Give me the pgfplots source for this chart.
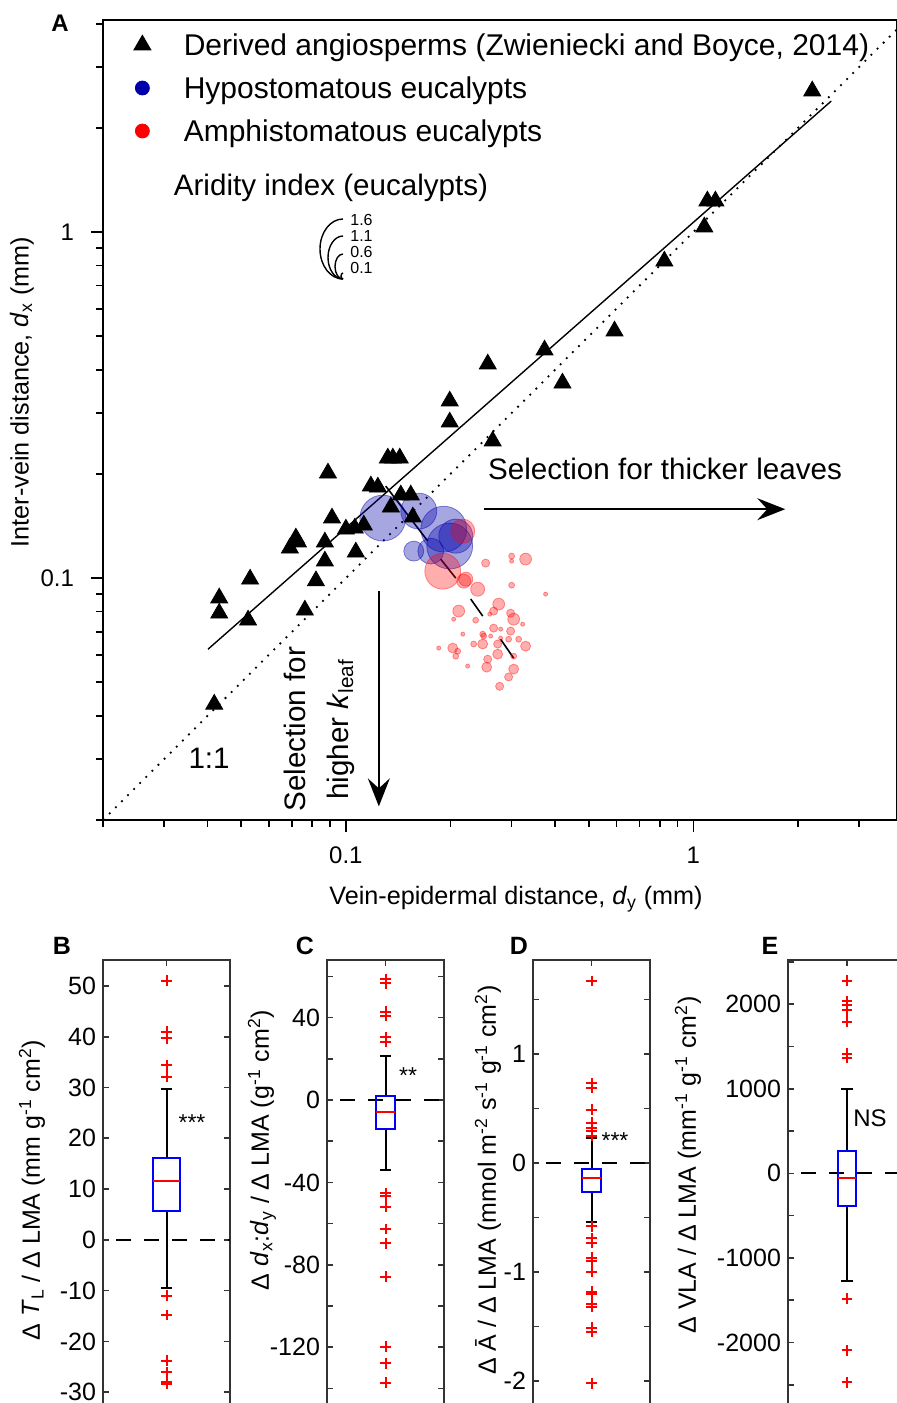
\documentclass[border=0pt]{standalone}
\usepackage{fontspec}
\setmainfont{Liberation Sans}
\usepackage{pgfplots}
\usepackage{pgfplotstable}
\pgfplotsset{compat=1.18}
\usepgfplotslibrary{statistics}
\usetikzlibrary{arrows.meta}

\definecolor{hypoc}{RGB}{0,0,170}
\definecolor{amphic}{RGB}{255,0,0}
\definecolor{frm}{gray}{0.2}
\newcommand{\fs}[1]{\fontsize{#1}{#1}\selectfont}

% derived angiosperms (dy, dx) in mm
\pgfplotstableread{
x y
2.198 2.556
1.097 1.229
1.157 1.229
1.075 1.034
0.825 0.824
0.593 0.5175
0.373 0.456
0.420 0.366
0.256 0.4154
0.199 0.3248
0.199 0.2824
0.2645 0.2489
0.1320 0.2222
0.1365 0.2222
0.1429 0.2222
0.0888 0.2011
0.1180 0.1845
0.1236 0.1832
0.1439 0.1738
0.1537 0.1738
0.1347 0.1604
0.1558 0.1501
0.0912 0.1491
0.1126 0.1423
0.1061 0.1394
0.1000 0.1385
0.0718 0.1305
0.0728 0.1271
0.0690 0.1221
0.0870 0.1271
0.1068 0.1189
0.0870 0.1120
0.0820 0.0982
0.0530 0.0993
0.0432 0.0876
0.0432 0.0792
0.0523 0.0756
0.0762 0.0808
0.0418 0.0432
}\tabangio

% hypostomatous eucalypts, ai = aridity index
\pgfplotstableread{
x y ai
0.1277 0.1491 1.24
0.1621 0.1562 0.97
0.1913 0.1385 1.24
0.1990 0.1238 1.24
0.2071 0.1322 0.92
0.1568 0.1197 0.54
0.1755 0.1197 0.70
}\tabhypo

% amphistomatous eucalypts
\pgfplotstableread{
x y ai
0.2170 0.1367 0.65
0.1900 0.1047 0.97
0.2213 0.0993 0.38
0.2184 0.0980 0.38
0.2394 0.0929 0.38
0.2525 0.1105 0.22
0.2999 0.1158 0.16
0.2999 0.1120 0.11
0.3290 0.1135 0.32
0.2999 0.0954 0.16
0.3756 0.0899 0.11
0.2753 0.0841 0.32
0.2979 0.0792 0.22
0.2662 0.0803 0.22
0.2112 0.0803 0.32
0.2043 0.0761 0.11
0.2363 0.0756 0.16
0.3040 0.0761 0.32
0.3226 0.0736 0.11
0.2662 0.0717 0.22
0.2492 0.0680 0.16
0.2979 0.0703 0.22
0.2788 0.0712 0.11
0.3142 0.0666 0.16
0.2476 0.0645 0.27
0.2734 0.0645 0.22
0.2940 0.0666 0.16
0.3290 0.0636 0.27
0.2332 0.0645 0.16
0.2170 0.0689 0.11
0.2030 0.0628 0.27
0.2098 0.0615 0.16
0.1850 0.0628 0.11
0.2071 0.0595 0.16
0.2734 0.0603 0.27
0.2559 0.0583 0.22
0.3040 0.0595 0.16
0.2542 0.0553 0.27
0.3040 0.0546 0.27
0.2241 0.0557 0.11
0.2940 0.0518 0.22
0.2770 0.0487 0.22
0.2788 0.0671 0.11
0.2610 0.0680 0.11
0.2476 0.0689 0.16
0.2594 0.0787 0.11
}\tabamphi

\pgfplotsset{
  sized/.style={
    visualization depends on={\thisrow{ai} \as \aival},
    scatter/@pre marker code/.append style={/tikz/mark size=\aival*9.25pt}},
  boxpanel/.style={anchor=south west, scale only axis, height=225pt,
    xmin=0.5, xmax=1.5, xtick={1}, xticklabels={},
    tick align=inside, xtick pos=both, ytick pos=both,
    major tick length=3pt, minor tick length=3pt,
    axis line style={line width=0.8pt, frm},
    tick style={line width=0.8pt, frm},
    tick label style={font=\fs{12.5}},
    /pgf/number format/assume math mode=true,
    /pgf/number format/1000 sep={}},
  zeroline/.style={forget plot, black, line width=1pt,
    dash pattern=on 7.5pt off 6.5pt, dash phase=7.5pt},
  mybox/.style={color=red, line width=1pt, mark=+, mark size=2.7pt,
    mark options={draw=red, line width=1pt, solid},
    boxplot/draw direction=y,
    boxplot/every box/.style={draw=blue, line width=1pt},
    boxplot/every median/.style={draw=red, line width=1pt},
    boxplot/every whisker/.style={draw=black, line width=1pt}},
}

\begin{document}
\begin{tikzpicture}
\path[use as bounding box] (0,0) rectangle (448.5pt,-701.5pt);

% ---------------- panel A ----------------
\begin{axis}[at={(51.5pt,-410pt)}, anchor=south west, scale only axis,
  width=397pt, height=400pt,
  xmode=log, ymode=log, xmin=0.02, xmax=3.855, ymin=0.02, ymax=4.1,
  xtick={0.1,1}, xticklabels={0.1,1}, ytick={0.1,1}, yticklabels={0.1,1},
  minor xtick={0.02,0.03,0.04,0.05,0.06,0.07,0.08,0.09,0.2,0.3,0.4,0.5,0.6,0.7,0.8,0.9,2,3},
  minor ytick={0.02,0.03,0.04,0.05,0.06,0.07,0.08,0.09,0.2,0.3,0.4,0.5,0.6,0.7,0.8,0.9,2,3,4},
  tick pos=left, tick align=outside,
  major tick length=6pt, minor tick length=3.3pt,
  axis line style={line width=0.8pt},
  tick style={line width=0.8pt, black},
  tick label style={font=\fs{12}},
  yticklabel style={xshift=-5pt},
  xticklabel style={yshift=-4pt},
  /pgf/number format/assume math mode=true,
  legend style={at={(axis description cs:0,1)}, anchor=north west,
    xshift=9.5pt, yshift=-5.85pt, draw=none, fill=none,
    inner sep=0pt, outer sep=0pt, row sep=8.2pt, column sep=10.5pt,
    font=\fs{15}, nodes={inner sep=0pt, text height=12pt, text depth=1.3pt}},
  legend cell align=left,
  legend image code/.code={\path (0pt,0pt) (20pt,0pt);
    \path[draw=none, #1] plot coordinates {(10pt,0pt)};},
]
\addlegendimage{mark=triangle*, mark size=4.9pt, black}
\addlegendentry{Derived angiosperms (Zwieniecki and Boyce, 2014)}
\addlegendimage{mark=*, mark size=3.5pt, hypoc}
\addlegendentry{Hypostomatous eucalypts}
\addlegendimage{mark=*, mark size=3.5pt, amphic}
\addlegendentry{Amphistomatous eucalypts}

\addplot[forget plot, scatter, only marks, mark=*,
  scatter/use mapped color={draw=hypoc, fill=hypoc, draw opacity=0.45, fill opacity=0.35},
  sized] table[x=x, y=y] {\tabhypo};
\addplot[forget plot, scatter, only marks, mark=*,
  scatter/use mapped color={draw=amphic, fill=amphic, draw opacity=0.4, fill opacity=0.32},
  sized] table[x=x, y=y] {\tabamphi};

% 1:1 line and fitted line
\addplot[forget plot, black, line width=0.9pt, dash pattern=on 0.9pt off 3.4pt]
  coordinates {(0.02,0.02) (4.1,4.1)};
\addplot[forget plot, black, line width=0.7pt]
  coordinates {(0.0401,0.0623) (2.493,2.391)};
% within-group slopes
\addplot[forget plot, black, line width=0.8pt] coordinates {(0.1302,0.1845) (0.1720,0.1280)};
\addplot[forget plot, black, line width=0.8pt] coordinates {(0.1874,0.1135) (0.2071,0.1000)};
\addplot[forget plot, black, line width=0.8pt] coordinates {(0.2287,0.0870) (0.2476,0.0777)};
\addplot[forget plot, black, line width=0.8pt] coordinates {(0.2788,0.0666) (0.3040,0.0587)};

\addplot[forget plot, only marks, mark=triangle*, mark size=4.9pt, black]
  table[x=x, y=y] {\tabangio};

\draw[line width=0.8pt, -{Stealth[length=14pt, width=11pt, inset=5pt]}]
  (axis cs:0.2492,0.1582) -- (axis cs:1.838,0.1582);
\draw[line width=0.8pt, -{Stealth[length=14pt, width=11pt, inset=5pt]}]
  (axis cs:0.1244,0.0917) -- (axis cs:0.1244,0.0219);
\node[anchor=west, font=\fs{14.8}, inner sep=0pt] at (axis cs:0.256,0.2065)
  {Selection for thicker leaves};
\node[font=\fs{14.8}] at (axis cs:0.0404,0.0302) {1:1};
\node[rotate=90, align=center, font=\fontsize{14.8}{21.5}\selectfont]
  at (axis cs:0.0836,0.0366) {Selection for\\higher \textit{k}\textsubscript{leaf}};
\end{axis}

% ---------------- panel B ----------------
\begin{axis}[boxpanel, at={(51.5pt,-705pt)}, width=63.5pt,
  ymin=-33.5, ymax=55.1, ytick={-30,-20,...,50}]
\addplot[zeroline] coordinates {(0.5,0) (1.5,0)};
\addplot[mybox, boxplot prepared={draw position=1, lower whisker=-9.5,
  lower quartile=5.6, median=11.5, upper quartile=16.1, upper whisker=29.8,
  box extend=0.22, whisker extend=0.094}]
  coordinates {(1,51.0) (1,41.0) (1,39.7) (1,34.4) (1,32.1) (1,-11.0)
  (1,-14.8) (1,-23.8) (1,-26.1) (1,-27.9) (1,-28.3)};
\end{axis}

% ---------------- panel C ----------------
\begin{axis}[boxpanel, at={(163.5pt,-705pt)}, width=58.5pt,
  ymin=-150.5, ymax=68, ytick={-120,-80,-40,0,40},
  minor ytick={-140,-100,-60,-20,20,60}]
\addplot[zeroline] coordinates {(0.5,0) (1.5,0)};
\addplot[mybox, boxplot prepared={draw position=1, lower whisker=-34.0,
  lower quartile=-14.1, median=-5.7, upper quartile=1.9, upper whisker=21.4,
  box extend=0.154, whisker extend=0.1}]
  coordinates {(1,58.7) (1,56.6) (1,43.0) (1,40.8) (1,30.4) (1,28.2)
  (1,-45.3) (1,-46.4) (1,-51.8) (1,-62.6) (1,-69.6) (1,-85.8)
  (1,-119.7) (1,-127.8) (1,-137.2)};
\end{axis}

% ---------------- panel D ----------------
\begin{axis}[boxpanel, at={(266.5pt,-705pt)}, width=58.5pt,
  ymin=-2.266, ymax=1.862, ytick={-2,-1,0,1},
  minor ytick={-1.5,-0.5,0.5,1.5}]
\addplot[zeroline] coordinates {(0.5,0) (1.5,0)};
\addplot[mybox, boxplot prepared={draw position=1, lower whisker=-0.545,
  lower quartile=-0.27, median=-0.134, upper quartile=-0.058, upper whisker=0.226,
  box extend=0.16, whisker extend=0.1}]
  coordinates {(1,1.67) (1,0.73) (1,0.69) (1,0.49) (1,0.37) (1,0.32)
  (1,0.29) (1,0.25) (1,-0.58) (1,-0.69) (1,-0.73) (1,-0.87) (1,-0.90)
  (1,-1.00) (1,-1.18) (1,-1.20) (1,-1.29) (1,-1.32) (1,-1.51) (1,-1.55)
  (1,-2.02)};
\end{axis}

% ---------------- panel E (values in thousands) ----------------
\begin{axis}[boxpanel, at={(394pt,-705pt)}, width=59pt,
  ymin=-2.799, ymax=2.523, ytick={-2,-1,0,1,2},
  yticklabels={-2000,-1000,0,1000,2000},
  minor ytick={-2.5,-1.5,-0.5,0.5,1.5,2.5}]
\addplot[zeroline] coordinates {(0.5,0) (1.5,0)};
\addplot[mybox, boxplot prepared={draw position=1, lower whisker=-1.268,
  lower quartile=-0.382, median=-0.055, upper quartile=0.260, upper whisker=0.996,
  box extend=0.153, whisker extend=0.1}]
  coordinates {(1,2.276) (1,2.039) (1,1.992) (1,1.929) (1,1.795) (1,1.417)
  (1,1.370) (1,-1.484) (1,-2.094) (1,-2.469)};
\end{axis}

% ---------------- labels ----------------
\node[font=\bfseries\fs{12}] at (30pt,-11.5pt) {A};
\node[font=\bfseries\fs{12.5}] at (31pt,-473pt) {B};
\node[font=\bfseries\fs{12.5}] at (152.5pt,-473pt) {C};
\node[font=\bfseries\fs{12.5}] at (259.5pt,-473pt) {D};
\node[font=\bfseries\fs{12.5}] at (385pt,-473pt) {E};

\node[font=\fs{14.8}] at (165.5pt,-94pt) {Aridity index (eucalypts)};
\draw[line width=0.7pt] (171.5pt,-109.5pt) arc[start angle=90, end angle=270, x radius=11.5pt, y radius=15pt];
\draw[line width=0.7pt] (171.5pt,-118pt) arc[start angle=90, end angle=270, x radius=7.5pt, y radius=10.75pt];
\draw[line width=0.7pt] (171.5pt,-127pt) arc[start angle=90, end angle=270, x radius=4pt, y radius=6.25pt];
\draw[line width=0.7pt] (171.5pt,-136.5pt) arc[start angle=90, end angle=270, x radius=1pt, y radius=1.5pt];
\node[anchor=west, inner sep=0pt, font=\fs{8}] at (175pt,-110pt) {1.6};
\node[anchor=west, inner sep=0pt, font=\fs{8}] at (175pt,-118pt) {1.1};
\node[anchor=west, inner sep=0pt, font=\fs{8}] at (175pt,-126pt) {0.6};
\node[anchor=west, inner sep=0pt, font=\fs{8}] at (175pt,-134pt) {0.1};

\node[rotate=90, font=\fs{12.6}] at (11pt,-196pt)
  {Inter-vein distance, \textit{d}\textsubscript{x} (mm)};
\node[font=\fs{12.6}] at (258pt,-449.5pt)
  {Vein-epidermal distance, \textit{d}\textsubscript{y} (mm)};

\node[rotate=90, font=\fs{12.5}] at (16pt,-595pt)
  {Δ \textit{T}\textsubscript{L} / Δ LMA (mm g\textsuperscript{-1} cm\textsuperscript{2})};
\node[rotate=90, font=\fs{12.5}] at (131pt,-575pt)
  {Δ \textit{d}\textsubscript{x}:\textit{d}\textsubscript{y} / Δ LMA (g\textsuperscript{-1} cm\textsuperscript{2})};
\node[rotate=90, font=\fs{12.5}] at (244pt,-590pt)
  {Δ Ā / Δ LMA (mmol m\textsuperscript{-2} s\textsuperscript{-1} g\textsuperscript{-1} cm\textsuperscript{2})};
\node[rotate=90, font=\fs{12.5}] at (344pt,-582.5pt)
  {Δ VLA / Δ LMA (mm\textsuperscript{-1} g\textsuperscript{-1} cm\textsuperscript{2})};

\node[font=\fs{11.5}] at (96pt,-561.5pt) {***};
\node[font=\fs{11.5}] at (204pt,-538pt) {**};
\node[font=\fs{11.5}] at (307.5pt,-570.5pt) {***};
\node[font=\fs{12}] at (435pt,-559pt) {NS};
\end{tikzpicture}
\end{document}
